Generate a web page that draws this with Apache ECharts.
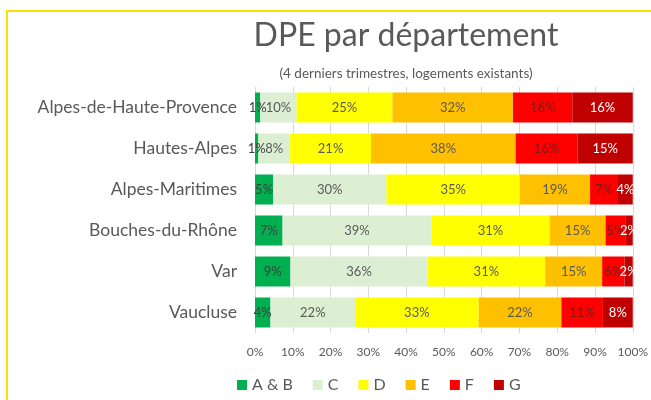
<!DOCTYPE html>
<html>
<head>
<meta charset="utf-8">
<script src="https://cdn.jsdelivr.net/npm/echarts@6/dist/echarts.min.js"></script>
<style>
  html, body { margin: 0; padding: 0; background: #fff; }
  #chart { width: 651px; height: 400px; }
</style>
</head>
<body>
<div id="chart"></div>
<script>
// départements (haut -> bas)
var departements = ['Alpes-de-Haute-Provence', 'Hautes-Alpes', 'Alpes-Maritimes', 'Bouches-du-Rhône', 'Var', 'Vaucluse'];
var classes = ['A & B', 'C', 'D', 'E', 'F', 'G'];

// parts en %, une liste par classe, dans l'ordre des départements
var partAB = [1.4, 0.9, 4.8, 7.3, 9.4, 4.1];
var partC  = [9.6, 8.4, 30.0, 39.4, 36.3, 22.4];
var partD  = [25.4, 21.4, 35.3, 31.3, 31.1, 32.7];
var partE  = [31.9, 38.3, 18.6, 14.8, 15.1, 21.9];
var partF  = [15.7, 16.4, 7.4, 5.2, 5.9, 11.0];
var partG  = [16.0, 14.6, 3.9, 2.0, 2.2, 7.9];

var ticks = [0, 10, 20, 30, 40, 50, 60, 70, 80, 90, 100];

var couleurs = ['#00B050', '#DDEFD3', '#FFFF00', '#FFC000', '#FF0000', '#C00000'];
var couleursTexte = ['#404040', '#595959', '#595959', '#595959', '#7a1a1a', '#ffffff'];
var parts = [partAB, partC, partD, partE, partF, partG];

var police = 'Lato, "Open Sans", sans-serif';

var myChart = echarts.init(document.getElementById('chart'));

var series = [];
for (var i = 0; i < classes.length; i++) {
    series.push({
        name: classes[i],
        type: 'bar',
        stack: 'total',
        barWidth: 30,
        data: parts[i],
        itemStyle: { color: couleurs[i] },
        label: {
            show: true,
            position: 'inside',
            fontFamily: police,
            fontSize: 13,
            color: couleursTexte[i],
            formatter: function (p) { return Math.round(p.value) + '%'; }
        }
    });
}

var option = {
    animation: false,
    backgroundColor: '#fff',
    title: [{
        text: 'DPE par département',
        left: 401,
        top: 15,
        textAlign: 'center',
        textStyle: { fontFamily: police, fontSize: 32, fontWeight: 'normal', color: '#595959' }
    }, {
        text: '(4 derniers trimestres, logements existants)',
        left: 401,
        top: 62,
        textAlign: 'center',
        textStyle: { fontFamily: police, fontSize: 13.5, fontWeight: 'normal', color: '#595959' }
    }],
    legend: {
        bottom: 2,
        left: 232,
        itemWidth: 10,
        itemHeight: 10,
        itemGap: 20,
        icon: 'rect',
        textStyle: { fontFamily: police, fontSize: 16, color: '#595959' },
        data: classes
    },
    grid: { left: 255, right: 18, top: 87, bottom: 67 },
    xAxis: {
        type: 'value',
        min: ticks[0],
        max: ticks[ticks.length - 1],
        interval: 10,
        axisLine: { show: false },
        axisTick: { show: false },
        splitLine: { show: true, lineStyle: { color: '#D9D9D9', width: 1 } },
        axisLabel: {
            fontFamily: police, fontSize: 12, color: '#595959', margin: 13,
            formatter: function (v) { return v + '%'; }
        }
    },
    yAxis: {
        type: 'category',
        inverse: true,
        data: departements,
        axisLine: { show: false },
        axisTick: { show: false },
        axisLabel: { fontFamily: police, fontSize: 17.5, color: '#595959', margin: 18 }
    },
    graphic: [{
        type: 'polyline',
        shape: { points: [[7, 400], [7, 11], [651, 11]] },
        style: { stroke: '#FFE100', lineWidth: 2, fill: null }
    }],
    series: series
};

myChart.setOption(option);
window.addEventListener('resize', function () {
    myChart.resize();
});
</script>
</body>
</html>
